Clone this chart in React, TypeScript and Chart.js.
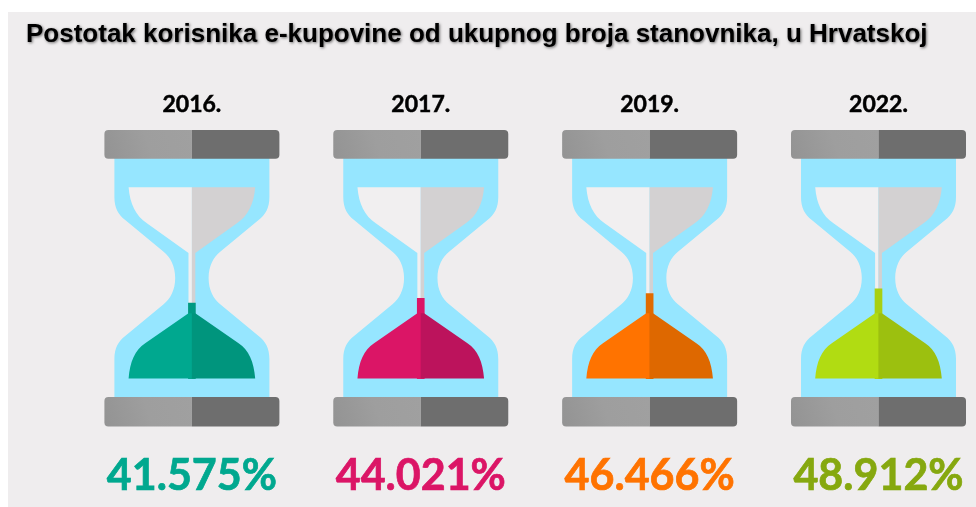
import React, { useEffect, useRef } from "react";
import { Chart, registerables } from "chart.js";

Chart.register(...registerables);

const titleText = "Postotak korisnika e-kupovine od ukupnog broja stanovnika, u Hrvatskoj";
const years = ["2016.", "2017.", "2019.", "2022."];
const shares = [41.575, 44.021, 46.466, 48.912];
const shareLabels = ["41.575%", "44.021%", "46.466%", "48.912%"];
const sandLight = ["#00A88F", "#DB1566", "#FF7300", "#B1DC12"];
const sandDark = ["#00957D", "#BC135C", "#DE6800", "#9CC00F"];
const spoutColors = ["#009A82", "#DB1566", "#E06B00", "#A8D011"];
const labelColors = ["#00A88F", "#DB1566", "#FF7300", "#86A80F"];

const BLUE = "#96E6FF";
const BG = "#EFEDEE";
const GLASS_R = "#D3D1D2";
const GLASS_L = "#F1EFF0";
const SCALE_MIN = 3;
const SCALE_MAX = 130;

function roundedHalf(ctx: CanvasRenderingContext2D, x0: number, x1: number, top: number, bottom: number, r: number, leftSide: boolean) {
  ctx.beginPath();
  if (leftSide) {
    ctx.moveTo(x1, top);
    ctx.lineTo(x0 + r, top);
    ctx.quadraticCurveTo(x0, top, x0, top + r);
    ctx.lineTo(x0, bottom - r);
    ctx.quadraticCurveTo(x0, bottom, x0 + r, bottom);
    ctx.lineTo(x1, bottom);
  } else {
    ctx.moveTo(x0, top);
    ctx.lineTo(x1 - r, top);
    ctx.quadraticCurveTo(x1, top, x1, top + r);
    ctx.lineTo(x1, bottom - r);
    ctx.quadraticCurveTo(x1, bottom, x1 - r, bottom);
    ctx.lineTo(x0, bottom);
  }
  ctx.closePath();
  ctx.fill();
}

function drawCap(ctx: CanvasRenderingContext2D, cx: number, top: number, bottom: number) {
  const g = ctx.createLinearGradient(cx - 87.5, bottom, cx, top);
  g.addColorStop(0, "#939393");
  g.addColorStop(0.5, "#9E9E9E");
  g.addColorStop(1, "#A0A0A0");
  ctx.fillStyle = g;
  roundedHalf(ctx, cx - 87.5, cx, top, bottom, 4, true);
  ctx.fillStyle = "#6E6E6E";
  roundedHalf(ctx, cx, cx + 87.5, top, bottom, 4, false);
}

function bodyPath(ctx: CanvasRenderingContext2D, cx: number, Y: (p: number) => number) {
  const X = (s: number, d: number) => cx + s * d;
  ctx.beginPath();
  ctx.moveTo(X(-1, 77.5), Y(158));
  // left side, going down
  ctx.lineTo(X(-1, 77.5), Y(197));
  ctx.bezierCurveTo(X(-1, 77.5), Y(208), X(-1, 73.5), Y(214.7), X(-1, 66.7), Y(220));
  ctx.lineTo(X(-1, 28.3), Y(251.7));
  ctx.bezierCurveTo(X(-1, 21.5), Y(257.3), X(-1, 16.7), Y(266), X(-1, 16.7), Y(278));
  ctx.bezierCurveTo(X(-1, 16.7), Y(290), X(-1, 21.5), Y(298.7), X(-1, 28.3), Y(304.3));
  ctx.lineTo(X(-1, 66.7), Y(336));
  ctx.bezierCurveTo(X(-1, 73.5), Y(341.3), X(-1, 77.5), Y(348), X(-1, 77.5), Y(359));
  ctx.lineTo(X(-1, 77.5), Y(397));
  // right side, going up
  ctx.lineTo(X(1, 77.5), Y(397));
  ctx.lineTo(X(1, 77.5), Y(359));
  ctx.bezierCurveTo(X(1, 77.5), Y(348), X(1, 73.5), Y(341.3), X(1, 66.7), Y(336));
  ctx.lineTo(X(1, 28.3), Y(304.3));
  ctx.bezierCurveTo(X(1, 21.5), Y(298.7), X(1, 16.7), Y(290), X(1, 16.7), Y(278));
  ctx.bezierCurveTo(X(1, 16.7), Y(266), X(1, 21.5), Y(257.3), X(1, 28.3), Y(251.7));
  ctx.lineTo(X(1, 66.7), Y(220));
  ctx.bezierCurveTo(X(1, 73.5), Y(214.7), X(1, 77.5), Y(208), X(1, 77.5), Y(197));
  ctx.lineTo(X(1, 77.5), Y(158));
  ctx.closePath();
}

function upperGlass(ctx: CanvasRenderingContext2D, cx: number, s: number, Y: (p: number) => number) {
  ctx.beginPath();
  ctx.moveTo(cx, Y(187.3));
  ctx.lineTo(cx + s * 63.3, Y(187.3));
  ctx.bezierCurveTo(cx + s * 62, Y(204), cx + s * 56, Y(216), cx + s * 45, Y(223.3));
  ctx.lineTo(cx + s * 3.4, Y(253));
  ctx.lineTo(cx + s * 3.4, Y(315));
  ctx.lineTo(cx, Y(315));
  ctx.closePath();
  ctx.fill();
}

function dome(ctx: CanvasRenderingContext2D, cx: number, s: number, Y: (p: number) => number) {
  ctx.beginPath();
  ctx.moveTo(cx, Y(378.6));
  ctx.lineTo(cx + s * 63.3, Y(378.6));
  ctx.bezierCurveTo(cx + s * 62, Y(362), cx + s * 57, Y(350), cx + s * 46.7, Y(343.3));
  ctx.lineTo(cx + s * 3.4, Y(313.3));
  ctx.lineTo(cx, Y(313.3));
  ctx.closePath();
  ctx.fill();
}

const hourglassPlugin = {
  id: "hourglass",
  beforeDatasetsDraw(chart: any) {
    const { ctx, scales } = chart;
    const base = scales.y.bottom;
    const Y = (p: number) => base + (p - 378.6);
    ctx.save();
    years.forEach((_, i) => {
      const cx = scales.x.getPixelForValue(i);
      ctx.fillStyle = BLUE;
      bodyPath(ctx, cx, Y);
      ctx.fill();
      ctx.fillStyle = GLASS_L;
      upperGlass(ctx, cx, -1, Y);
      ctx.fillStyle = GLASS_R;
      upperGlass(ctx, cx, 1, Y);
      drawCap(ctx, cx, Y(130), Y(158.7));
      drawCap(ctx, cx, Y(397), Y(426.5));
    });
    ctx.restore();
  },
  afterDatasetsDraw(chart: any) {
    const { ctx, scales } = chart;
    const base = scales.y.bottom;
    const Y = (p: number) => base + (p - 378.6);
    ctx.save();
    years.forEach((_, i) => {
      const cx = scales.x.getPixelForValue(i);
      ctx.fillStyle = sandLight[i];
      dome(ctx, cx, -1, Y);
      ctx.fillStyle = sandDark[i];
      dome(ctx, cx, 1, Y);
      ctx.fillStyle = labelColors[i];
      ctx.strokeStyle = labelColors[i];
      ctx.lineWidth = 0.7;
      ctx.font = "bold 43px Lato, 'Open Sans', sans-serif";
      ctx.textAlign = "center";
      ctx.textBaseline = "middle";
      ctx.fillText(shareLabels[i], cx, Y(476));
      ctx.strokeText(shareLabels[i], cx, Y(476));
    });
    ctx.restore();
  },
};

export default function App() {
  const ref = useRef<HTMLCanvasElement>(null);
  useEffect(() => {
    const chart: any = new Chart(ref.current as HTMLCanvasElement, {
      type: "bar",
      plugins: [hourglassPlugin],
      data: {
        labels: years,
        datasets: [
          {
            label: "Postotak",
            data: shares,
            backgroundColor: spoutColors,
            barThickness: 7,
            grouped: false,
            clip: false,
            base: SCALE_MIN,
          } as any,
        ],
      },
      options: {
        responsive: false,
        animation: false,
        layout: { padding: { left: 18, right: 0, top: 0, bottom: 128.4 } },
        plugins: {
          legend: { display: false },
          tooltip: { enabled: false },
          title: {
            display: true,
            text: titleText,
            align: "start",
            color: "#000000",
            font: { family: "'Liberation Sans', Arial, sans-serif", size: 26, weight: "bold" },
            padding: { top: 7.4, bottom: 0 },
          },
        },
        scales: {
          x: {
            type: "category",
            position: "top",
            offset: false,
            grid: { display: false },
            border: { display: false },
            afterFit: (s: any) => {
              s.height = 79.4;
            },
            ticks: {
              color: "#000000",
              padding: 4,
              maxRotation: 0,
              autoSkip: false,
              textStrokeColor: "#000000",
              textStrokeWidth: 0.5,
              font: { family: "Lato, 'Open Sans', sans-serif", size: 23, weight: "bold" },
            },
          },
          y: {
            type: "linear",
            position: "left",
            min: SCALE_MIN,
            max: SCALE_MAX,
            grid: { display: false },
            border: { display: false },
            ticks: { display: false },
            afterFit: (s: any) => {
              s.width = 165.9;
            },
          },
          yRight: {
            type: "linear",
            axis: "y",
            position: "right",
            grid: { display: false },
            border: { display: false },
            ticks: { display: false },
            afterFit: (s: any) => {
              s.width = 97.5;
            },
          },
        },
      } as any,
    });
    const tb = chart.titleBlock;
    const origDraw = tb.draw;
    tb.draw = function (...args: any[]) {
      const c = chart.ctx;
      c.save();
      c.shadowColor = "rgba(0,0,0,0.55)";
      c.shadowBlur = 3;
      c.shadowOffsetX = 1;
      c.shadowOffsetY = 1;
      origDraw.apply(this, args);
      c.restore();
    };
    chart.draw();
    return () => chart.destroy();
  }, []);
  return (
    <div>
      <canvas
        ref={ref}
        width={968}
        height={495}
        style={{ position: "fixed", left: 8, top: 12, width: 968, height: 495, background: BG }}
      />
    </div>
  );
}
